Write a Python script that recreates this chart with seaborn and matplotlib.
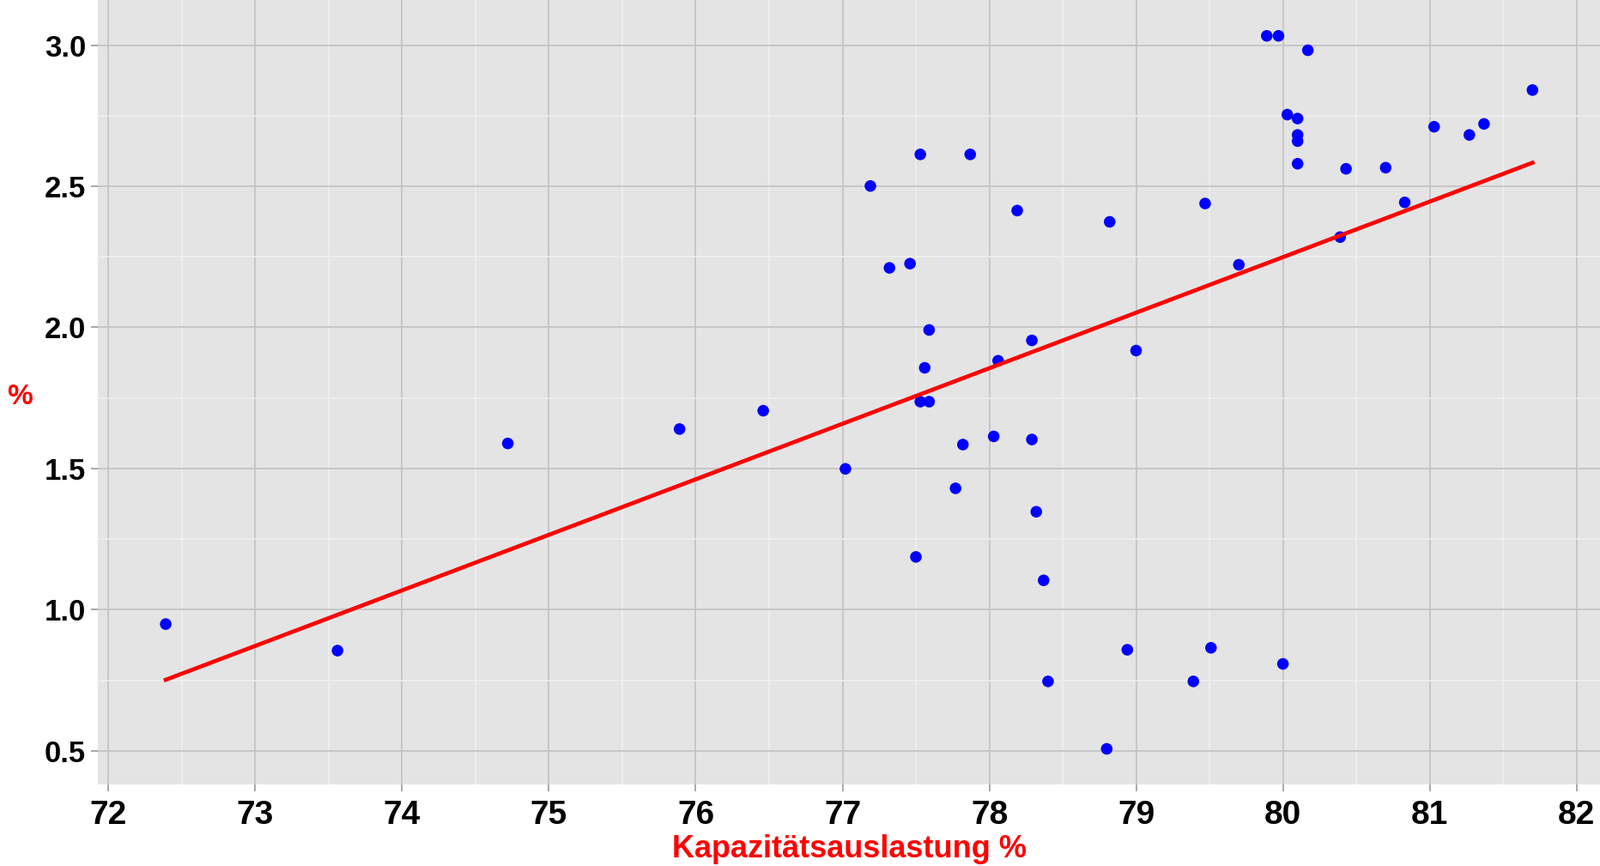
import numpy as np
import pandas as pd
import matplotlib.pyplot as plt
from matplotlib.ticker import MultipleLocator
import seaborn as sns

# Capacity utilisation (x) and values in % (y)
kapazitaet = [72.39, 73.56, 74.72, 75.89, 76.46, 77.02, 77.19, 77.32, 77.46, 77.53,
              77.50, 77.56, 77.59, 77.53, 77.59, 77.77, 77.82, 77.87, 78.03, 78.06,
              78.19, 78.29, 78.29, 78.32, 78.37, 78.40, 78.80, 78.82, 78.94, 79.00,
              79.39, 79.47, 79.51, 79.70, 79.89, 79.97, 80.00, 80.03, 80.10, 80.10,
              80.10, 80.10, 80.17, 80.39, 80.43, 80.70, 80.83, 81.03, 81.27, 81.37,
              81.70]
prozent = [0.949, 0.855, 1.589, 1.640, 1.705, 1.499, 2.501, 2.211, 2.226, 2.613,
           1.187, 1.857, 1.991, 1.737, 1.737, 1.430, 1.585, 2.613, 1.614, 1.882,
           2.414, 1.954, 1.603, 1.347, 1.104, 0.746, 0.507, 2.374, 0.858, 1.918,
           0.746, 2.439, 0.865, 2.222, 3.033, 3.033, 0.808, 2.754, 2.740, 2.682,
           2.660, 2.580, 2.982, 2.320, 2.562, 2.566, 2.443, 2.711, 2.682, 2.721,
           2.841]

x_ticks = [72, 73, 74, 75, 76, 77, 78, 79, 80, 81, 82]
y_ticks = [0.5, 1.0, 1.5, 2.0, 2.5, 3.0]

PANEL_BG = '#e4e4e4'
MAJOR_GRID = '#c4c4c4'
MINOR_GRID = '#f0f0f0'
FONT = ['Liberation Sans', 'Arial', 'DejaVu Sans']


def style_axes(ax):
    """ggplot-like grey panel with grey major and white minor grid"""
    ax.set_facecolor(PANEL_BG)
    for side in ax.spines.values():
        side.set_visible(False)
    ax.xaxis.set_minor_locator(MultipleLocator(0.5))
    ax.yaxis.set_minor_locator(MultipleLocator(0.25))
    ax.grid(which='major', color=MAJOR_GRID, linewidth=1.3)
    ax.grid(which='minor', color=MINOR_GRID, linewidth=1.1)
    ax.set_axisbelow(True)
    ax.tick_params(which='minor', length=0)
    ax.tick_params(axis='x', which='major', length=6, width=1.2, color='#999999', pad=7)
    ax.tick_params(axis='y', which='major', length=6, width=1.2, color='#999999', pad=4)


def main():
    df = pd.DataFrame({'x': kapazitaet, 'y': prozent})

    fig = plt.figure(figsize=(18.64, 10.09), dpi=100)
    ax = fig.add_axes([0.0612, 0.0942, 0.9388, 0.9058])
    style_axes(ax)

    sns.regplot(data=df, x='x', y='y', ax=ax, ci=None,
                scatter_kws={'s': 95, 'color': 'blue', 'edgecolor': 'none', 'alpha': 1},
                line_kws={'color': 'red', 'linewidth': 3.4})

    ax.set_xlim(71.928, 82.16)
    ax.set_ylim(0.381, 3.16)
    ax.set_xticks(x_ticks)
    ax.set_yticks(y_ticks)
    ax.set_xticklabels([str(t) for t in x_ticks], fontsize=28, fontweight='bold',
                       family=['Liberation Sans Narrow'] + FONT)
    ax.set_yticklabels([f'{t:.1f}' for t in y_ticks], fontsize=25, fontweight='bold',
                       family=FONT)

    ax.set_xlabel('Kapazitätsauslastung %', fontsize=26, fontweight='bold', color='red',
                  family=FONT, labelpad=3)
    ax.set_ylabel('%', fontsize=24, fontweight='bold', color='red', rotation=0,
                  family=FONT, va='center', ha='center')
    ax.yaxis.set_label_coords(-0.052, 0.494)

    fig.savefig('out.png', dpi=100)


if __name__ == '__main__':
    main()
